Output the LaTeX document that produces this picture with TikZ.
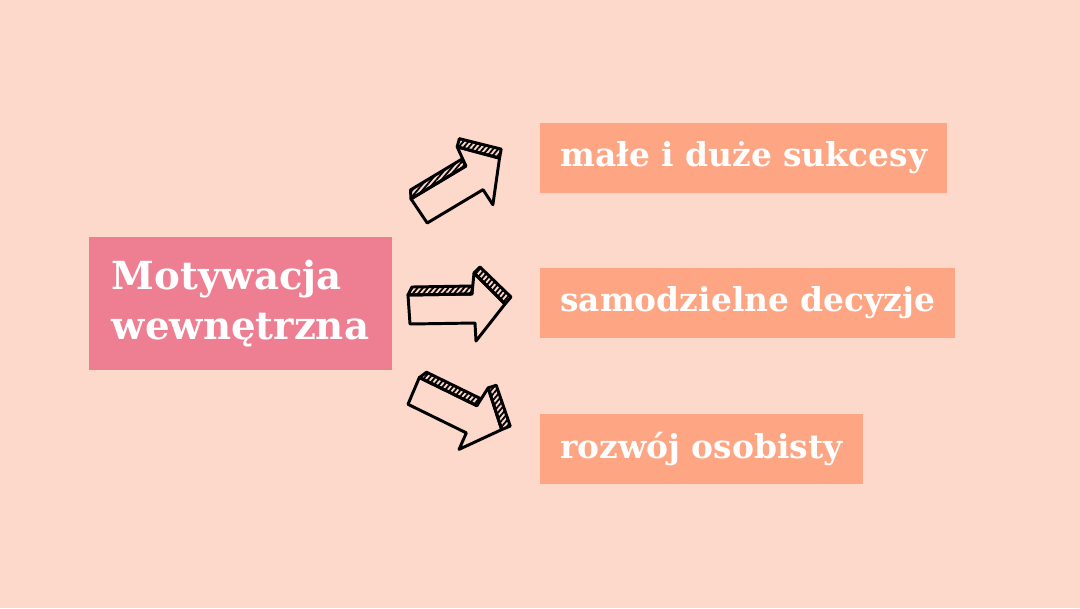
\documentclass[tikz,border=0pt]{standalone}
\usepackage{fontspec}
\setmainfont{DejaVu Serif}
\usetikzlibrary{positioning,patterns.meta}

\definecolor{bgpeach}{RGB}{253,217,203}
\definecolor{mainpink}{RGB}{238,127,146}
\definecolor{salmon}{RGB}{254,165,131}

\tikzset{
  mainbox/.style={fill=mainpink, text=white, align=left, font=\bfseries\fontsize{27.5}{35.5}\selectfont, minimum width=7.575cm, minimum height=3.325cm},
  itembox/.style={fill=salmon, text=white, anchor=west, font=\bfseries\fontsize{23.4}{28}\selectfont, inner xsep=0.5cm, minimum height=1.75cm},
  sketch/.style={draw=black, line width=2.1pt, line join=round, line cap=round},
  hatch/.style={pattern={Lines[angle=50,distance=2.8pt,line width=1.3pt]}, pattern color=black},
  pics/blockarrow/.style={code={
      \draw[sketch] (0,-14) -- (64,-15) -- (66,-36) -- (97,-5) -- (68,32) -- (67,14) -- (2,15) -- cycle;
      \draw[sketch, hatch] (0,-14) -- (4,-22) -- (64,-23) -- (64,-15) -- cycle;
      \draw[sketch, hatch] (66,-36) -- (72,-42) -- (103,-12) -- (97,-5) -- cycle;
  }}
}

\begin{document}
\begin{tikzpicture}[x=0.025cm, y=-0.025cm]

    % background
    \fill[bgpeach] (0,0) rectangle (1080,608);
    \useasboundingbox (0,0) rectangle (1080,608);

    % Nodes
    \node[mainbox] (motiv) at (240.5,303.5) {Motywacja\\wewnętrzna};

    \node[itembox] (succ) at (540,158) {małe i duże sukcesy};
    \node[itembox] (decis) at (540,303) {samodzielne decyzje};
    \node[itembox] (growth) at (540,448.5) {rozwój osobisty};

    % Arrows
    \pic[shift={(418,211)}, rotate=30] {blockarrow};
    \pic[shift={(408,309)}] {blockarrow};
    \pic[shift={(413,390)}, rotate=-27] {blockarrow};

\end{tikzpicture}
\end{document}
